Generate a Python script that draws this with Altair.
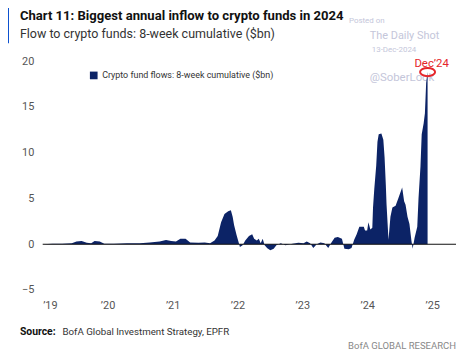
import altair as alt
import pandas as pd

dates = [
    "2019-01-04", "2019-02-25", "2019-04-20", "2019-06-14", "2019-07-10", "2019-08-08",
    "2019-09-06", "2019-10-01", "2019-10-20", "2019-11-18", "2019-12-14", "2020-02-06",
    "2020-04-20", "2020-07-01", "2020-08-25", "2020-10-20", "2020-11-25", "2020-12-24",
    "2021-01-20", "2021-02-14", "2021-03-15", "2021-04-10", "2021-05-27", "2021-07-01",
    "2021-07-31", "2021-08-25", "2021-09-12", "2021-10-01", "2021-10-20", "2021-11-10",
    "2021-11-25", "2021-12-05", "2021-12-13", "2021-12-27", "2022-01-08", "2022-01-15",
    "2022-01-30", "2022-02-14", "2022-03-07", "2022-03-25", "2022-04-05", "2022-04-20",
    "2022-05-01", "2022-05-12", "2022-05-23", "2022-06-03", "2022-06-18", "2022-07-05",
    "2022-07-24", "2022-08-08", "2022-09-02", "2022-09-28", "2022-11-07", "2022-12-10",
    "2023-01-08", "2023-01-26", "2023-02-14", "2023-03-04", "2023-03-23", "2023-04-13",
    "2023-05-05", "2023-05-27", "2023-06-14", "2023-07-02", "2023-07-20", "2023-08-12",
    "2023-08-26", "2023-09-20", "2023-10-05", "2023-10-20", "2023-11-03", "2023-11-18",
    "2023-12-13", "2023-12-20", "2024-01-01", "2024-01-08", "2024-01-19", "2024-01-30",
    "2024-02-03", "2024-02-10", "2024-02-21", "2024-02-28", "2024-03-06", "2024-03-21",
    "2024-04-01", "2024-04-08", "2024-04-15", "2024-04-19", "2024-04-30", "2024-05-11",
    "2024-05-22", "2024-06-09", "2024-06-24", "2024-07-09", "2024-07-16", "2024-07-27",
    "2024-08-04", "2024-08-15", "2024-08-26", "2024-09-06", "2024-09-13", "2024-09-24",
    "2024-10-09", "2024-10-16", "2024-10-27", "2024-11-03", "2024-11-14", "2024-11-21",
    "2024-11-28", "2024-12-06",
]
flows = [
    0.0, 0.05, 0.05, 0.1, 0.3, 0.35,
    0.15, 0.1, 0.35, 0.3, 0.05, 0.05,
    0.1, 0.1, 0.2, 0.3, 0.45, 0.35,
    0.3, 0.6, 0.6, 0.2, 0.15, 0.2,
    0.1, 0.4, 0.9, 2.4, 3.3, 3.6,
    3.7, 3.0, 2.1, 1.0, 0.2, -0.3,
    -0.1, 0.4, 0.9, 1.1, 0.6, 0.4,
    0.6, 0.1, 0.6, -0.1, -0.45, -0.65,
    -0.5, -0.1, 0.1, -0.1, 0.05, 0.15,
    0.1, 0.3, 0.1, -0.4, 0.0, 0.2,
    0.1, -0.4, 0.2, 0.7, 0.8, 0.6,
    -0.5, -0.55, -0.4, 0.5, 1.1, 1.9,
    1.9, 1.5, 1.5, 2.4, 1.6, 1.8,
    4.0, 6.0, 8.6, 11.2, 12.0, 12.1,
    11.4, 9.5, 6.5, 4.4, 0.5, 3.0,
    4.0, 4.2, 5.0, 5.8, 6.2, 4.7,
    4.3, 3.0, 2.2, 0.4, -0.5, 0.7,
    1.9, 5.0, 8.5, 12.0, 13.2, 14.3,
    17.6, 18.8,
]
series_name = "Crypto fund flows: 8-week cumulative ($bn)"
y_ticks = [-5, 0, 5, 10, 15, 20]
x_years = [2019, 2020, 2021, 2022, 2023, 2024, 2025]
peak_date = ["2024-12-06"]
peak_value = [18.8]

df = pd.DataFrame({"date": dates, "flow": flows, "series": series_name})
peak_df = pd.DataFrame({"date": peak_date, "flow": peak_value})

NAVY = "#0c2366"
FONT = "Roboto, sans-serif"
W, H = 417, 231

x_scale = alt.Scale(domain=[alt.DateTime(year=2019, month=1, date=1),
                            alt.DateTime(year=2025, month=5, date=15)])
y_scale = alt.Scale(domain=[-5, 20], nice=False)

x_axis = alt.Axis(
    values=[alt.DateTime(year=y, month=1, date=1) for y in x_years],
    labelExpr="'\u2019' + timeFormat(datum.value, '%y')",
    grid=False, domain=False, ticks=False, labelPadding=10,
    labelFontSize=11, labelColor="#555", labelFont=FONT, title=None)
y_axis = alt.Axis(
    values=y_ticks, grid=False, domain=False, ticks=False, labelPadding=9,
    labelFontSize=11, labelColor="#555", labelFont=FONT, title=None)


def txt(text, x, y, size, color, weight="normal", align="left", font=FONT):
    return alt.Chart(pd.DataFrame({"t": [text]})).mark_text(
        align=align, baseline="alphabetic", fontSize=size, color=color,
        fontWeight=weight, font=font
    ).encode(text="t:N", x=alt.value(x), y=alt.value(y))


watermarks = (
    txt("Posted on", 309, -38, 8, "#c4c6da") +
    txt("The Daily Shot", 330, -22, 11, "#c4c6da") +
    txt("13-Dec-2024", 332, -9, 8, "#c4c6da") +
    txt("@SoberLook", 330, 20, 11.5, "#c4c6da")
)

area = alt.Chart(df).mark_area(color=NAVY, opacity=1).encode(
    x=alt.X("date:T", scale=x_scale, axis=x_axis),
    y=alt.Y("flow:Q", scale=y_scale, axis=y_axis),
    color=alt.Color("series:N", scale=alt.Scale(range=[NAVY]),
                    legend=alt.Legend(orient="none", legendX=47, legendY=10,
                                      title=None, symbolType="square",
                                      symbolSize=60, symbolStrokeWidth=0,
                                      symbolOpacity=1, labelLimit=400,
                                      labelFontSize=9, labelFont=FONT,
                                      labelColor="#333", padding=0)))

zero = alt.Chart(pd.DataFrame({"z": [0]})).mark_rule(color="#111", strokeWidth=1.2).encode(
    y=alt.Y("z:Q", scale=y_scale, axis=y_axis), x=alt.value(0), x2=alt.value(W))

ring = alt.Chart(peak_df).mark_point(
    shape="M -1 0 A 1 0.55 0 1 1 1 0 A 1 0.55 0 1 1 -1 0 Z",
    size=230, filled=False, color="#e5262b", strokeWidth=2, opacity=1
).encode(x=alt.X("date:T", scale=x_scale, axis=x_axis),
         y=alt.Y("flow:Q", scale=y_scale, axis=y_axis))

bar = alt.Chart(pd.DataFrame({"a": [0]})).mark_rect(color="#0b4fcf").encode(
    x=alt.value(-39), x2=alt.value(-34), y=alt.value(-60), y2=alt.value(-18))

one = pd.DataFrame({"a": [0]})
border = (
    alt.Chart(one).mark_rule(color="#c8c8c8", strokeWidth=1).encode(
        x=alt.value(-42), y=alt.value(-60), y2=alt.value(297)) +
    alt.Chart(one).mark_rule(color="#c8c8c8", strokeWidth=1).encode(
        x=alt.value(-42), x2=alt.value(419), y=alt.value(297)) +
    alt.Chart(one).mark_rule(color="#c8c8c8", strokeWidth=1).encode(
        x=alt.value(419), y=alt.value(-60), y2=alt.value(297))
)

texts = (
    txt("Chart 11: Biggest annual inflow to crypto funds in 2024", -23, -41, 13.2, "#111", "bold") +
    txt("Flow to crypto funds: 8-week cumulative ($bn)", -23, -23, 12.6, "#333") +
    txt("Dec\u201924", 375, 6, 11.5, "#e5262b") +
    txt("Source:", -23, 276, 10.5, "#111", "bold") +
    txt("BofA Global Investment Strategy, EPFR", 20, 276, 9.8, "#333") +
    txt("BofA GLOBAL RESEARCH", 417, 291, 9.6, "#888", align="right")
)

chart = alt.layer(border, bar, watermarks, area, zero, ring, texts).properties(
    width=W, height=H,
    autosize=alt.AutoSizeParams(type="none"),
    padding={"left": 35, "top": 52, "right": 1, "bottom": 61},
    background="white",
).configure_view(stroke=None)

chart.save("out.html", embed_options={"renderer": "svg", "actions": False})
